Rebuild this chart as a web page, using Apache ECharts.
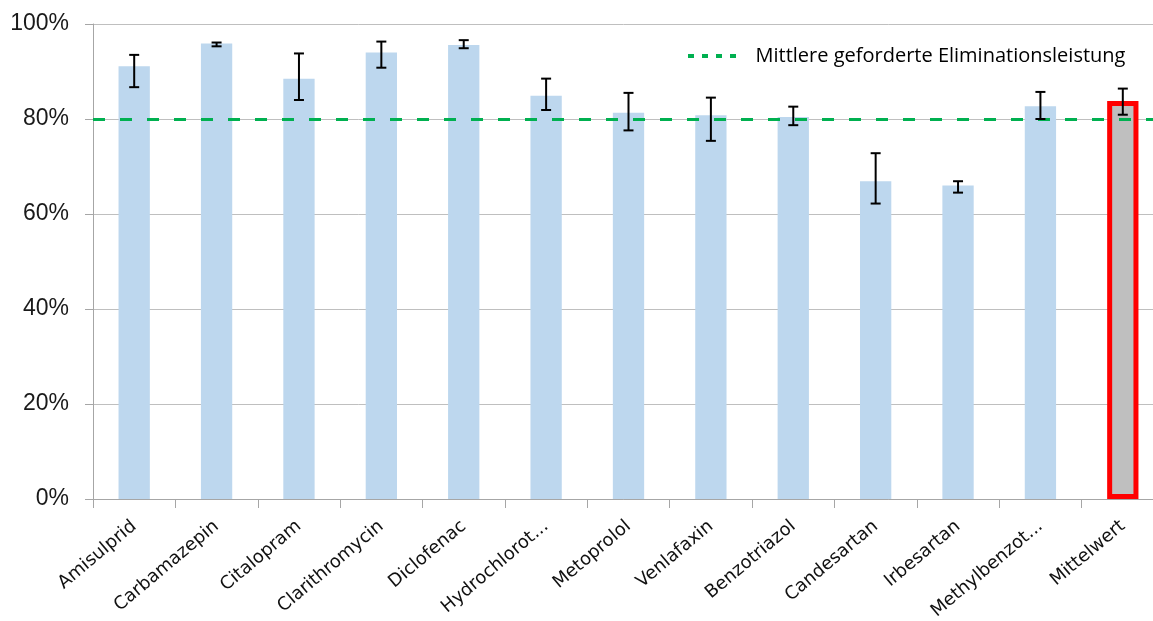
<!DOCTYPE html>
<html><head><meta charset="utf-8">
<script src="https://cdn.jsdelivr.net/npm/echarts@6/dist/echarts.min.js"></script>
<style>html,body{margin:0;padding:0;background:#fff}#c{width:1153px;height:621px}</style>
</head><body><div id="c"></div>
<script>
const categories = ['Amisulprid','Carbamazepin','Citalopram','Clarithromycin','Diclofenac','Hydrochlorot...','Metoprolol','Venlafaxin','Benzotriazol','Candesartan','Irbesartan','Methylbenzot...','Mittelwert'];
const values   = [91.1, 95.9, 88.5, 94.0, 95.6, 84.9, 81.3, 80.8, 80.4, 66.9, 66.0, 82.7, 83.8];
const errLower = [86.7, 95.3, 84.0, 90.8, 94.9, 81.9, 77.6, 75.4, 78.7, 62.2, 64.5, 80.0, 80.9];
const errUpper = [93.5, 96.1, 93.8, 96.3, 96.6, 88.5, 85.5, 84.5, 82.6, 72.8, 66.9, 85.7, 86.4];
const targetValue = 80;
const yTicks = [0, 20, 40, 60, 80, 100];
const legendName = 'Mittlere geforderte Eliminationsleistung';

const chart = echarts.init(document.getElementById('c'));
const barData = values.map((v, i) => i === values.length - 1
  ? {value: v, itemStyle: {color: '#BFBFBF', borderColor: '#FF0000', borderWidth: 5}}
  : v);
const errData = categories.map((c, i) => [i, errLower[i], errUpper[i]]);

chart.setOption({
  animation: false,
  grid: {left: 93, top: 24, width: 1071, bottom: 122, containLabel: false, outerBoundsMode: 'none'},
  legend: {
    data: [{name: legendName, icon: 'path://M0,0h6v4h-6z M14,0h6v4h-6z M28,0h6v4h-6z M42,0h6v4h-6z'}],
    left: 683, top: 41, itemWidth: 49, itemHeight: 4, itemGap: 22,
    textStyle: {fontFamily: 'Open Sans', fontSize: 20, color: '#000', padding: [0,0,0,14]}
  },
  xAxis: {
    type: 'category', data: categories,
    axisLine: {lineStyle: {color: '#A6A6A6', width: 1}},
    axisTick: {show: true, length: 9, lineStyle: {color: '#A6A6A6'}},
    axisLabel: {rotate: 40, fontFamily: 'DejaVu Sans', fontSize: 18, color: '#111', margin: 25, interval: 0}
  },
  yAxis: {
    type: 'value', min: 0, max: 100, interval: 20,
    axisLine: {show: true, lineStyle: {color: '#A6A6A6'}},
    axisTick: {show: true, length: 8, lineStyle: {color: '#A6A6A6'}},
    splitLine: {lineStyle: {color: '#BFBFBF'}},
    axisLabel: {formatter: v => yTicks.includes(v) ? v + '%' : '', fontFamily: 'Liberation Sans', fontSize: 23, color: '#1a1a1a', margin: 24}
  },
  series: [
    {type: 'bar', data: barData, barWidth: '38%', itemStyle: {color: '#BDD7EE'}, z: 2},
    {type: 'line', name: legendName, data: [], itemStyle: {color: '#00B050'},
     markLine: {silent: true, symbol: 'none', label: {show: false},
       lineStyle: {color: '#00B050', width: 3, type: [12, 15]},
       data: [{yAxis: targetValue}]}, z: 3},
    {type: 'custom', data: errData, z: 5,
     renderItem: function (params, api) {
       const x = api.value(0);
       const lo = api.coord([x, api.value(1)]);
       const hi = api.coord([x, api.value(2)]);
       const hw = 5;
       const st = {stroke: '#000', lineWidth: 2};
       return {type: 'group', children: [
         {type: 'line', shape: {x1: lo[0], y1: lo[1], x2: hi[0], y2: hi[1]}, style: st},
         {type: 'line', shape: {x1: hi[0]-hw, y1: hi[1], x2: hi[0]+hw, y2: hi[1]}, style: st},
         {type: 'line', shape: {x1: lo[0]-hw, y1: lo[1], x2: lo[0]+hw, y2: lo[1]}, style: st}
       ]};
     }}
  ]
});
</script></body></html>
